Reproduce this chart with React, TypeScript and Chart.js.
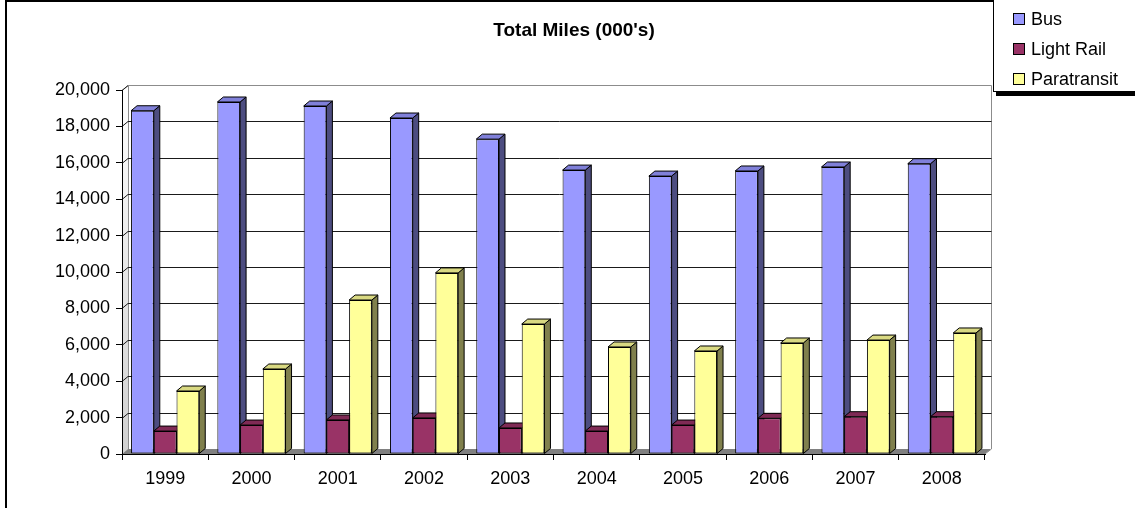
import React, { useEffect, useRef } from "react";
import { Chart, registerables } from "chart.js";

Chart.register(...registerables);

const categories = ["1999", "2000", "2001", "2002", "2003", "2004", "2005", "2006", "2007", "2008"];
const busMiles = [18860, 19340, 19120, 18460, 17300, 15600, 15270, 15550, 15770, 15950];
const lightRailMiles = [1260, 1590, 1870, 1980, 1430, 1260, 1590, 1960, 2050, 2050];
const paratransitMiles = [3460, 4670, 8460, 9950, 7140, 5880, 5660, 6100, 6260, 6650];
const seriesLabels = ["Bus", "Light Rail", "Paratransit"];
const chartTitle = "Total Miles (000's)";
const yMin = 0;
const yMax = 20000;
const yStep = 2000;

const FRONT = ["#9999FF", "#993366", "#FFFF99"];
const SIDE = ["#4D4D80", "#4D1A33", "#80804D"];
const TOP = ["#8080D9", "#7F2A55", "#D9D982"];
const FONT = "'Liberation Sans', Arial, sans-serif";
const DX = 6;
const DY = -5;

function poly(ctx: CanvasRenderingContext2D, pts: number[][], fill: any, stroke: string | null) {
  ctx.beginPath();
  ctx.moveTo(pts[0][0], pts[0][1]);
  for (let i = 1; i < pts.length; i++) ctx.lineTo(pts[i][0], pts[i][1]);
  ctx.closePath();
  if (fill) {
    ctx.fillStyle = fill;
    ctx.fill();
  }
  if (stroke) {
    ctx.strokeStyle = stroke;
    ctx.lineWidth = 1;
    ctx.stroke();
  }
}

const threeD = {
  id: "threeD",
  beforeDraw(chart: any) {
    const { ctx, chartArea } = chart;
    const { left, right, top, bottom } = chartArea;
    const y = chart.scales.y;
    ctx.save();
    ctx.strokeStyle = "#000";
    ctx.lineWidth = 2;
    ctx.beginPath();
    ctx.moveTo(6, 508);
    ctx.lineTo(6, 1);
    ctx.lineTo(1135, 1);
    ctx.stroke();

    const g = ctx.createLinearGradient(0, top, 0, bottom);
    g.addColorStop(0, "#ffffff");
    g.addColorStop(1, "#d0d0d0");
    poly(ctx, [[left, top], [left + DX, top + DY], [left + DX, bottom + DY], [left, bottom]], g, null);
    poly(ctx, [[left + DX, top + DY], [right + DX, top + DY], [right + DX, bottom + DY], [left + DX, bottom + DY]], "#ffffff", null);
    poly(ctx, [[left, bottom], [right, bottom], [right + DX, bottom + DY], [left + DX, bottom + DY]], "#808080", null);

    ctx.strokeStyle = "#8c8c8c";
    ctx.lineWidth = 1;
    ctx.beginPath();
    ctx.moveTo(left, top + 0.5);
    ctx.lineTo(left + DX + 0.5, top + DY + 0.5);
    ctx.lineTo(right + DX + 0.5, top + DY + 0.5);
    ctx.lineTo(right + DX + 0.5, bottom + DY);
    ctx.lineTo(right, bottom);
    ctx.moveTo(left + DX + 0.5, top + DY);
    ctx.lineTo(left + DX + 0.5, bottom + DY);
    ctx.stroke();

    ctx.strokeStyle = "#1a1a1a";
    for (let v = yMin + yStep; v < yMax; v += yStep) {
      const py = Math.round(y.getPixelForValue(v)) + 0.5;
      ctx.beginPath();
      ctx.moveTo(left, py);
      ctx.lineTo(left + DX, py + DY);
      ctx.lineTo(right + DX + 0.5, py + DY);
      ctx.stroke();
    }
    ctx.beginPath();
    ctx.moveTo(left, top + 0.5);
    ctx.lineTo(left + DX, top + DY + 0.5);
    ctx.stroke();
    ctx.restore();
  },
  beforeDatasetsDraw(chart: any) {
    const { ctx } = chart;
    ctx.save();
    const n = chart.data.labels.length;
    const nd = chart.data.datasets.length;
    for (let i = 0; i < n; i++) {
      for (let d = 0; d < nd; d++) {
        const el = chart.getDatasetMeta(d).data[i];
        if (!el) continue;
        const { x, y, base, width } = el.getProps(["x", "y", "base", "width"], true);
        const l = x - width / 2;
        const r = x + width / 2;
        poly(ctx, [[r, y], [r + DX, y + DY], [r + DX, base + DY], [r, base]], SIDE[d], "#000");
        poly(ctx, [[l, y], [l + DX, y + DY], [r + DX, y + DY], [r, y]], TOP[d], "#000");
      }
    }
    ctx.restore();
  },
  afterDraw(chart: any) {
    const { ctx } = chart;
    ctx.save();
    ctx.fillStyle = "#000";
    ctx.font = `bold 19px ${FONT}`;
    ctx.textAlign = "center";
    ctx.textBaseline = "middle";
    ctx.fillText(chartTitle, 574, 31);

    ctx.fillStyle = "#000";
    ctx.fillRect(996, 92, 139, 4);
    ctx.fillStyle = "#fff";
    ctx.fillRect(993, -1, 145, 93);
    ctx.strokeStyle = "#000";
    ctx.lineWidth = 1;
    ctx.strokeRect(993.5, -1.5, 150, 93);
    ctx.font = `18px ${FONT}`;
    ctx.textAlign = "left";
    ctx.textBaseline = "middle";
    chart.data.datasets.forEach((ds: any, k: number) => {
      const cy = 19 + k * 30;
      ctx.fillStyle = ds.backgroundColor;
      ctx.fillRect(1013, cy - 6, 12, 12);
      ctx.strokeStyle = "#000";
      ctx.strokeRect(1013.5, cy - 5.5, 11, 11);
      ctx.fillStyle = "#000";
      ctx.fillText(ds.label, 1031, cy + 1);
    });
    ctx.restore();
  },
};

export default function App() {
  const ref = useRef<HTMLCanvasElement | null>(null);
  useEffect(() => {
    if (!ref.current) return;
    Chart.defaults.font.family = FONT;
    const values = [busMiles, lightRailMiles, paratransitMiles];
    const chart = new Chart(ref.current, {
      type: "bar",
      data: {
        labels: categories,
        datasets: values.map((vals, k) => ({
          label: seriesLabels[k],
          data: vals,
          backgroundColor: FRONT[k],
          borderColor: "#000",
          borderWidth: 1,
          borderSkipped: false,
          categoryPercentage: 0.79,
          barPercentage: 1.0,
        })),
      },
      options: {
        animation: false,
        responsive: false,
        layout: { padding: { left: 0, top: 90, right: 150, bottom: 0 } },
        plugins: {
          legend: { display: false },
          title: { display: false },
          tooltip: { enabled: false },
        },
        scales: {
          x: {
            grid: {
              offset: true,
              drawOnChartArea: false,
              drawTicks: true,
              tickLength: 6,
              color: "#000",
            },
            border: { display: true, color: "#000", width: 1 },
            ticks: { color: "#000", font: { size: 18 }, padding: 8, maxRotation: 0 },
            afterFit: (s: any) => {
              s.height = 54;
            },
          },
          y: {
            min: yMin,
            max: yMax,
            grid: {
              drawOnChartArea: false,
              drawTicks: true,
              tickLength: 6,
              color: "#000",
            },
            border: { display: true, color: "#000", width: 1 },
            ticks: {
              stepSize: yStep,
              color: "#000",
              font: { size: 18 },
              padding: 6,
              callback: (v: any) => Number(v).toLocaleString("en-US"),
            },
            afterFit: (s: any) => {
              s.width = 122;
            },
          },
        },
      },
      plugins: [threeD],
    });
    return () => chart.destroy();
  }, []);
  return (
    <div style={{ position: "fixed", left: 0, top: 0, width: 1135, height: 508, background: "#fff" }}>
      <canvas ref={ref} width={1135} height={508} />
    </div>
  );
}
